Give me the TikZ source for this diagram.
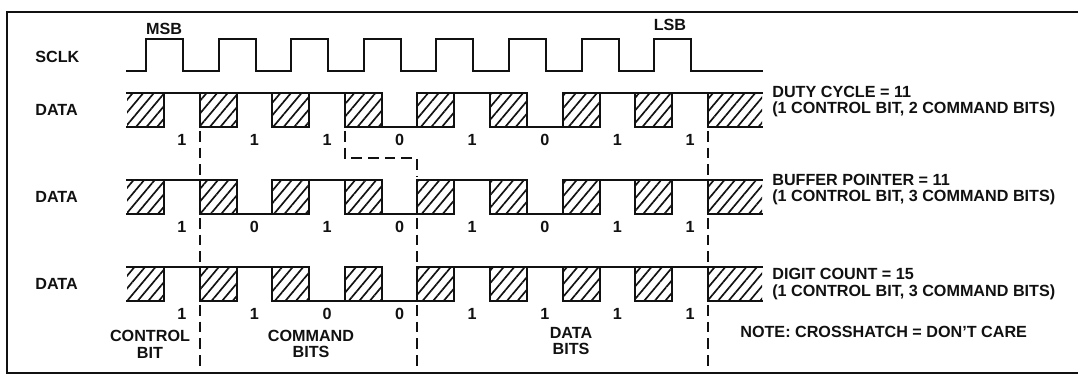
\documentclass[tikz,border=0pt]{standalone}
\usepackage{fontspec}
\setmainfont{Liberation Sans}
\usepackage{tikz}
\usetikzlibrary{patterns.meta}
\definecolor{cInk}{HTML}{111111}
\tikzset{
  sig/.style={line width=1.1pt,color=cInk,line cap=rect},
  hatch/.style={pattern={Lines[angle=50,distance=4.6pt,line width=0.95pt]},pattern color=cInk},
  guide/.style={line width=0.9pt,color=cInk,dash pattern=on 6pt off 3.5pt},
  lbl/.style={font=\fontsize{9.2}{9.6}\selectfont\bfseries,text=cInk,inner sep=0pt},
}

\begin{document}
\begin{tikzpicture}[x=0.02cm,y=-0.02cm]
  \useasboundingbox (0,0) rectangle (1080,377);
  % frame
  \draw[line width=1pt,cInk] (1078,12) -- (7,12) -- (7,373) -- (1078,373);
  % clock
  \node[lbl,anchor=west] (sclk) at (35,57) {SCLK};
  \draw[sig] (127,71) foreach \i in {0,...,7}{ -- ({146+\i*72.6},71) -- ({146+\i*72.6},39) -- ({183+\i*72.6},39) -- ({183+\i*72.6},71)} -- (762,71);
  \node[lbl] (msb) at (164,29) {MSB};
  \node[lbl] (lsb) at (670,25) {LSB};
  % data rows
  \foreach \r/\ry/\bits in {1/93/{1,1,1,0,1,0,1,1}, 2/180/{1,0,1,0,1,0,1,1}, 3/267/{1,1,0,0,1,1,1,1}}{
    \node[lbl,anchor=west] (data\r) at (35,\ry+17) {DATA};
    % don't care slots
    \foreach \i in {0,...,8}{
      \pgfmathsetmacro\xa{127+\i*72.6}
      \pgfmathsetmacro\xb{\i==8 ? 762 : \xa+37}
      \fill[hatch] (\xa,\ry) rectangle (\xb,\ry+34);
      \draw[sig] (\xa,\ry) -- (\xb,\ry) (\xa,\ry+34) -- (\xb,\ry+34);
      \ifnum\i>0 \draw[sig] (\xa,\ry) -- (\xa,\ry+34); \fi
      \ifnum\i<8 \draw[sig] (\xb,\ry) -- (\xb,\ry+34); \fi
    }
    % valid bits
    \foreach \b [count=\i from 0] in \bits {
      \pgfmathsetmacro\xs{127+\i*72.6+37}
      \pgfmathsetmacro\xe{127+(\i+1)*72.6}
      \pgfmathsetmacro\yy{\b==1 ? \ry : \ry+34}
      \draw[sig] (\xs,\yy) -- (\xe,\yy);
      \node[lbl] (bit\r\i) at ({(\xs+\xe)/2},\ry+47) {\b};
    }
  }
  % field boundaries
  \foreach \x in {200,708}{
    \foreach \ya/\yb in {131/176,218/263,305/368} \draw[guide] (\x,\ya) -- (\x,\yb);
  }
  \draw[guide] (345,131) -- (345,158) -- (417,158) -- (417,176);
  \foreach \ya/\yb in {218/263,305/368} \draw[guide] (417,\ya) -- (417,\yb);
  % captions
  \node[lbl,anchor=west,align=left] (duty) at (772,101.5) {DUTY CYCLE = 11\\(1 CONTROL BIT, 2 COMMAND BITS)};
  \node[lbl,anchor=west,align=left] (buffer) at (772,189.5) {BUFFER POINTER = 11\\(1 CONTROL BIT, 3 COMMAND BITS)};
  \node[lbl,anchor=west,align=left] (digit) at (772,284) {DIGIT COUNT = 15\\(1 CONTROL BIT, 3 COMMAND BITS)};
  \node[lbl,anchor=west] (note) at (740,332) {NOTE: CROSSHATCH = DON'T CARE};
  \node[lbl,align=center] (ctrlbit) at (150,344) {CONTROL\\BIT};
  \node[lbl,align=center] (cmdbits) at (311,344) {COMMAND\\BITS};
  \node[lbl,align=center] (databits) at (571,341) {DATA\\BITS};
\end{tikzpicture}
\end{document}
